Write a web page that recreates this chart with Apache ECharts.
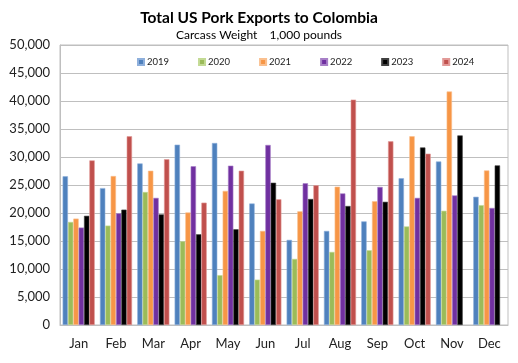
<!DOCTYPE html>
<html>
<head>
<meta charset="utf-8">
<script src="https://cdn.jsdelivr.net/npm/echarts@6/dist/echarts.min.js"></script>
<style>
html,body{margin:0;padding:0;background:#fff;}
#c{width:518px;height:363px;}
</style>
</head>
<body>
<div id="c"></div>
<script>
const months = ['Jan','Feb','Mar','Apr','May','Jun','Jul','Aug','Sep','Oct','Nov','Dec'];
const years = ['2019','2020','2021','2022','2023','2024'];
const v2019 = [26550, 24450, 28850, 32200, 32500, 21700, 15200, 16800, 18500, 26200, 29200, 22900];
const v2020 = [18400, 17750, 23750, 14950, 8900, 8100, 11800, 13050, 13350, 17600, 20400, 21400];
const v2021 = [19000, 26600, 27550, 20100, 23950, 16800, 20300, 24700, 22100, 33700, 41700, 27600];
const v2022 = [17400, 19950, 22700, 28350, 28450, 32150, 25300, 23500, 24650, 22700, 23150, 20900];
const v2023 = [19500, 20600, 19750, 16200, 17100, 25400, 22500, 21250, 22000, 31700, 33850, 28500];
const v2024 = [29400, 33700, 29600, 21850, 27550, 22450, 24950, 40250, 32800, 30600, null, null];
const seriesValues = [v2019, v2020, v2021, v2022, v2023, v2024];
const colors = ['#4F81BD', '#9BBB59', '#F79646', '#7030A0', '#000000', '#C0504D'];
const borders = ['#8FB0DC', '#C3DA94', '#FAC08F', '#A77FC7', '#404040', '#E29A98'];

const chart = echarts.init(document.getElementById('c'));
chart.setOption({
  animation: false,
  textStyle: { fontFamily: 'Lato, "Open Sans", sans-serif' },
  title: [
    { text: 'Total US Pork Exports to Colombia', left: 'center', top: 5,
      textStyle: { fontSize: 15.5, fontWeight: 'bold', color: '#000', fontFamily: 'Lato, sans-serif' } },
    { text: 'Carcass Weight    1,000 pounds', left: 'center', top: 24,
      textStyle: { fontSize: 12, fontWeight: 'normal', color: '#000', fontFamily: 'Lato, sans-serif' } }
  ],
  legend: {
    top: 52, left: 132,
    itemWidth: 6, itemHeight: 6, itemGap: 29,
    icon: 'rect',
    textStyle: { fontSize: 9.5, color: '#222', padding: [0, 0, 0, -2] },
    data: years
  },
  grid: { left: 60, right: 10, top: 45, bottom: 38, show: true, borderColor: '#bfbfbf', borderWidth: 1 },
  xAxis: {
    type: 'category', data: months,
    axisLine: { lineStyle: { color: '#bfbfbf' } },
    axisTick: { show: false },
    axisLabel: { fontSize: 13, color: '#222', margin: 12 }
  },
  yAxis: {
    type: 'value', min: 0, max: 50000, interval: 5000,
    axisLine: { show: true, lineStyle: { color: '#bfbfbf' } },
    splitLine: { lineStyle: { color: '#bfbfbf', width: 1 } },
    axisLabel: { fontSize: 13, color: '#222', margin: 10,
      formatter: v => v.toLocaleString('en-US') }
  },
  series: years.map((y, i) => ({
    name: y, type: 'bar', data: seriesValues[i],
    barGap: '0%', barCategoryGap: '14%',
    itemStyle: { color: colors[i], borderColor: borders[i], borderWidth: 0.6 }
  }))
});
</script>
</body>
</html>
